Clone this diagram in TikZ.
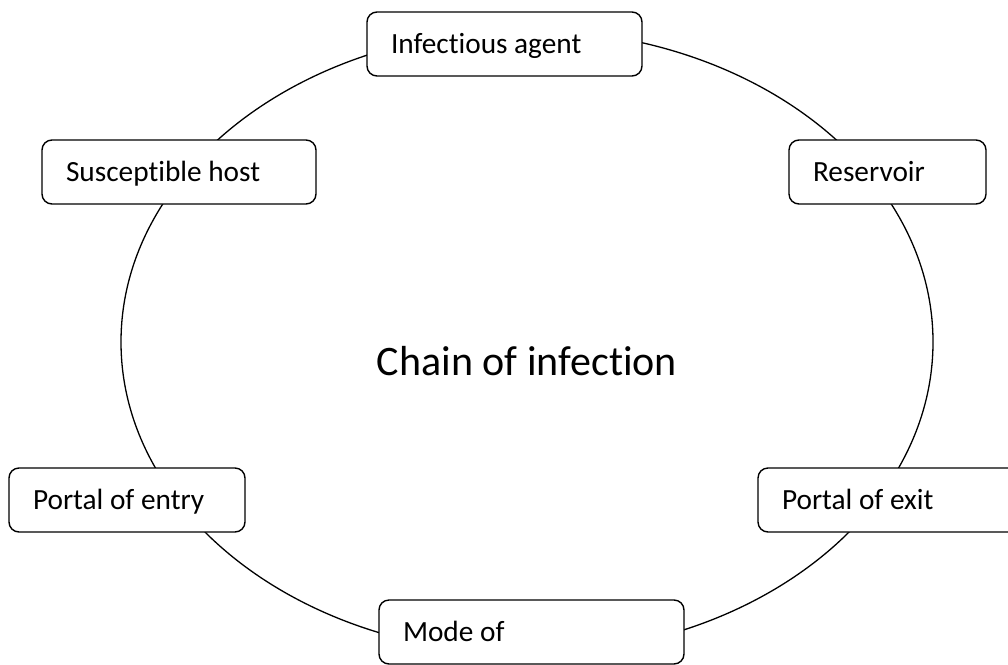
\documentclass[tikz,border=0pt]{standalone}
\usepackage{fontspec}
\setmainfont{Carlito}[Ligatures={NoCommon}]
\newcommand{\lbox}[2]{\makebox[#1][l]{#2}}
\tikzset{
  stage/.style={draw=black, line width=1.4pt, rounded corners=10pt, fill=white,
    minimum height=64pt, inner xsep=24pt, inner ysep=0pt,
    text height=18.6pt, text depth=0pt,
    font=\fontsize{29.3}{34}\selectfont},
  ring/.style={draw=black, line width=1.3pt},
  title/.style={font=\fontsize{42}{50}\selectfont, inner sep=0pt, anchor=base}
}
\begin{document}
\begin{tikzpicture}[x=1pt, y=-1pt]
\clip (0,0) rectangle (1008,664);
\fill[white] (0,0) rectangle (1008,664);
\draw[ring] (527,342) ellipse [x radius=406pt, y radius=312pt];
\node[title] (chain) at (527,375) {Chain of infection};
\node[stage] (agent) at (504.5,44) {\lbox{227pt}{Infectious agent}};
\node[stage] (host) at (179,172) {\lbox{226pt}{Susceptible host}};
\node[stage] (reservoir) at (887.5,172) {\lbox{149pt}{Reservoir}};
\node[stage] (entry) at (127,500) {\lbox{188pt}{Portal of entry}};
\node[stage] (exit) at (893,500) {\lbox{222pt}{Portal of exit}};
\node[stage] (mode) at (531.5,632) {\lbox{257pt}{Mode of}};
\end{tikzpicture}
\end{document}
